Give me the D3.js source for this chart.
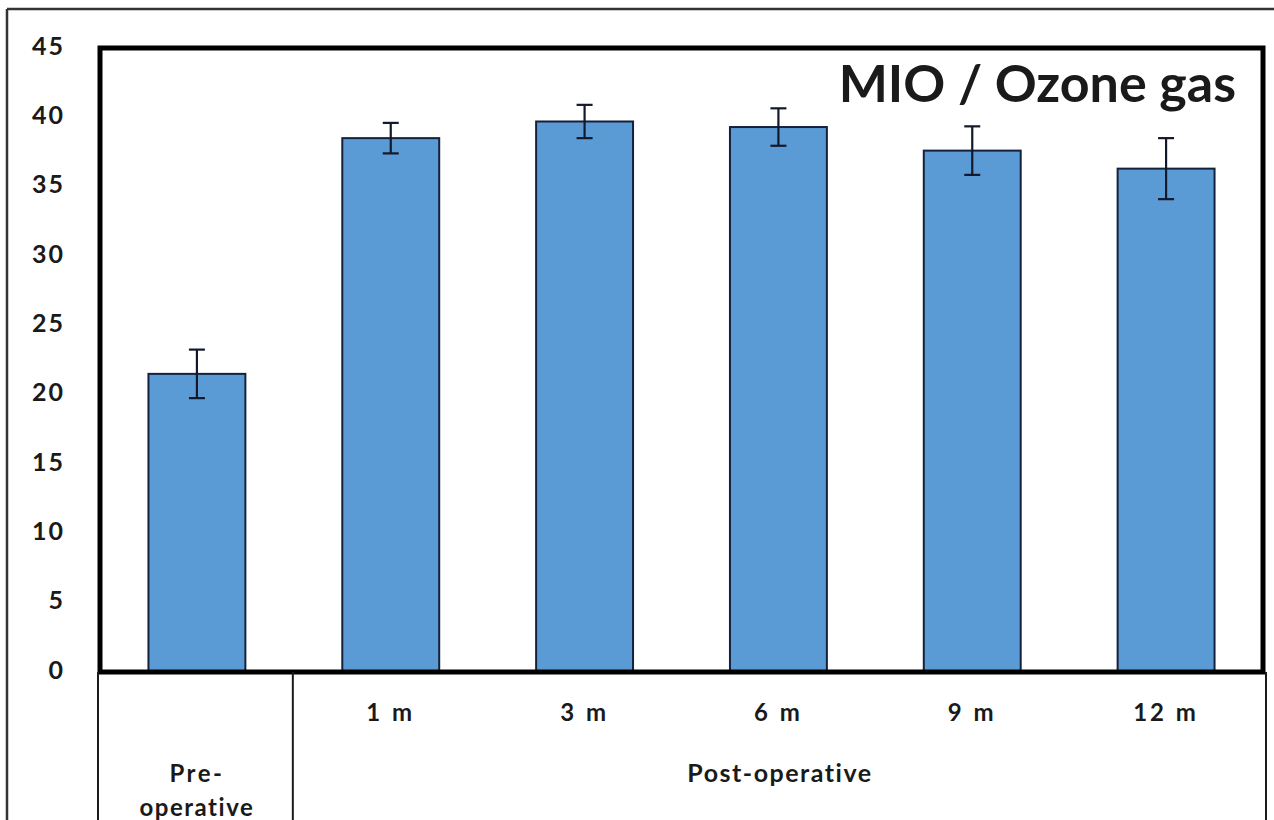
<!DOCTYPE html>
<html>
<head>
<meta charset="utf-8">
<script src="https://cdn.jsdelivr.net/npm/d3@7"></script>
<style>
  html, body { margin: 0; padding: 0; background: #fff; }
  svg { display: block; }
  text { font-family: Lato, "Open Sans", sans-serif; font-weight: bold; fill: #1a1a1a; }
</style>
</head>
<body>
<svg id="chart" width="1274" height="820"></svg>
<script>
const categories = ["Pre-operative", "1 m", "3 m", "6 m", "9 m", "12 m"];
const catLabels = ["", "1 m", "3 m", "6 m", "9 m", "12 m"];
const values = [21.5, 38.5, 39.7, 39.3, 37.6, 36.3];
const errors = [1.75, 1.1, 1.2, 1.35, 1.75, 2.2];
const yTicks = [0, 5, 10, 15, 20, 25, 30, 35, 40, 45];
const groupLabels = [["Pre-", "operative"], ["Post-operative"]];
const title = "MIO / Ozone gas";

const svg = d3.select("#chart");
const W = 1274, H = 820;
const plot = { left: 100, right: 1263, top: 48, bottom: 672 };

const x = d3.scaleBand().domain(categories).range([plot.left, plot.right])
  .paddingInner(0.5).paddingOuter(0.25);
const y = d3.scaleLinear().domain([0, 45]).range([plot.bottom, plot.top]);

// outer frame (top and left visible)
svg.append("line").attr("x1", 7).attr("x2", W).attr("y1", 9).attr("y2", 9)
  .attr("stroke", "#333").attr("stroke-width", 2.5);
svg.append("line").attr("x1", 7).attr("x2", 7).attr("y1", 9).attr("y2", H)
  .attr("stroke", "#333").attr("stroke-width", 2.5);

// bars
svg.append("g").selectAll("rect").data(categories).join("rect")
  .attr("x", d => x(d))
  .attr("y", (d, i) => y(values[i]))
  .attr("width", x.bandwidth())
  .attr("height", (d, i) => y(0) - y(values[i]))
  .attr("fill", "#5b9bd5")
  .attr("stroke", "#14213d")
  .attr("stroke-width", 2);

// error bars
const eg = svg.append("g").attr("stroke", "#14182b").attr("stroke-width", 2.2);
categories.forEach((c, i) => {
  const cx = x(c) + x.bandwidth() / 2;
  const hi = y(values[i] + errors[i]), lo = y(values[i] - errors[i]);
  eg.append("line").attr("x1", cx).attr("x2", cx).attr("y1", hi).attr("y2", lo);
  eg.append("line").attr("x1", cx - 8).attr("x2", cx + 8).attr("y1", hi).attr("y2", hi);
  eg.append("line").attr("x1", cx - 8).attr("x2", cx + 8).attr("y1", lo).attr("y2", lo);
});

// plot frame (thick)
svg.append("rect").attr("x", plot.left).attr("y", plot.top)
  .attr("width", plot.right - plot.left).attr("height", plot.bottom - plot.top)
  .attr("fill", "none").attr("stroke", "#000").attr("stroke-width", 5);

// y axis tick labels
const yAxis = d3.axisLeft(y).tickValues(yTicks).tickSize(0).tickPadding(0);
const ga = svg.append("g").attr("transform", `translate(65,0)`).call(yAxis);
ga.select(".domain").remove();
ga.selectAll("text")
  .attr("dy", null).attr("y", 6)
  .style("font-size", "25px").style("letter-spacing", "2px")
  .style("font-family", "Lato, sans-serif").style("font-weight", "bold")
  .attr("fill", "#1a1a1a");

// table lines under the axis
const step = x.step();
const divX = plot.left + step;
[98, divX - 1, 1266].forEach(lx => {
  svg.append("line").attr("x1", lx).attr("x2", lx).attr("y1", plot.bottom).attr("y2", H)
    .attr("stroke", "#1a1a1a").attr("stroke-width", 2);
});

// category labels
svg.append("g").selectAll("text").data(categories).join("text")
  .attr("x", d => x(d) + x.bandwidth() / 2)
  .attr("y", 721)
  .attr("text-anchor", "middle")
  .style("font-size", "24px")
  .style("letter-spacing", "3px")
  .text((d, i) => catLabels[i]);

// group labels
const preCx = x(categories[0]) + x.bandwidth() / 2;
svg.append("text").attr("x", preCx).attr("y", 782).attr("text-anchor", "middle")
  .style("font-size", "24px").style("letter-spacing", "2.5px").text(groupLabels[0][0]);
svg.append("text").attr("x", preCx).attr("y", 816).attr("text-anchor", "middle")
  .style("font-size", "24px").style("letter-spacing", "1.5px").text(groupLabels[0][1]);
svg.append("text").attr("x", (divX + 1266) / 2).attr("y", 782).attr("text-anchor", "middle")
  .style("font-size", "25px").style("letter-spacing", "1.5px").text(groupLabels[1][0]);

// title
svg.append("text").attr("x", 1236).attr("y", 102).attr("text-anchor", "end")
  .style("font-size", "52px").style("font-weight", "bold")
  .attr("fill", "#111").text(title);
</script>
</body>
</html>
